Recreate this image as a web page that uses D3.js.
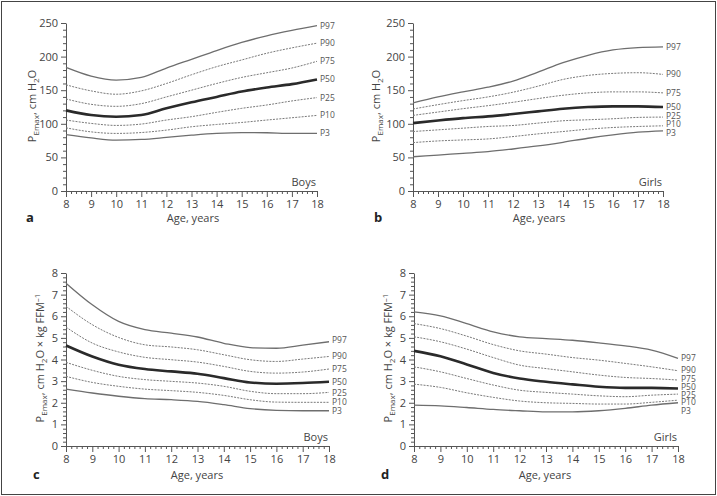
<!DOCTYPE html>
<html><head><meta charset="utf-8">
<script src="https://cdn.jsdelivr.net/npm/d3@7"></script>
<style>
body{margin:0;background:#fff;}
svg{display:block;font-family:"Open Sans",sans-serif;}
</style></head><body>
<svg id="c" width="717" height="496"></svg>
<script>
const ages = [8,9,10,11,12,13,14,15,16,17,18];
const percentiles = ["P97","P90","P75","P50","P25","P10","P3"];

// Panel a: Boys PEmax (cm H2O)
const boysP97 = [184,171,165,169,183,196,209,221,231,239,246];
const boysP90 = [158,149,144,149,160,173,185,195,205,213,220];
const boysP75 = [137,129,126,130,140,150,160,169,176,183,193];
const boysP50 = [120,113,110.5,113,123,132,140,148,154,159,166];
const boysP25 = [105.6,100.6,97.6,99.6,105.6,110.6,117,123,128,134,139];
const boysP10 = [94,88,85.7,87,90.6,95.6,99,102,105.6,109,112.5];
const boysP3  = [84,79,75.7,76.7,79.7,83,85.7,87,86.7,85.7,85.7];
const boysLabelAt = [246,220,193,166,139,112.5,86];

// Panel b: Girls PEmax (cm H2O)
const girlsP97 = [131,140,147.5,154.5,163.5,177,191,202,210,213.5,214.5];
const girlsP90 = [122,128.5,134.5,140,147,156,166,172,175,176,173.5];
const girlsP75 = [112.5,117.5,122.5,127,132,137.5,142.5,146,147.5,147.5,146];
const girlsP50 = [101,105,108.5,111,114.5,118.5,122.5,125,126,126,125];
const girlsP25 = [88.5,91,93.5,96,97.5,101,104.5,106,107.5,109.5,110];
const girlsP10 = [72,74.5,76,77.5,81,85,88.5,92,94.5,96,97];
const girlsP3  = [51,53.5,56,58.5,62.5,67,72.5,78.5,83.5,87.5,89.5];
const girlsLabelAt = [214.5,174.5,145.5,125.5,111,100,87];

// Panel c: Boys PEmax per kg FFM
const boysFfmP97 = [7.53,6.53,5.76,5.38,5.22,5.04,4.75,4.55,4.52,4.66,4.82];
const boysFfmP90 = [6.46,5.61,5.02,4.68,4.58,4.45,4.22,3.99,3.91,4.02,4.14];
const boysFfmP75 = [5.5,4.76,4.35,4.1,3.99,3.88,3.68,3.45,3.37,3.42,3.56];
const boysFfmP50 = [4.65,4.14,3.76,3.56,3.45,3.34,3.14,2.94,2.88,2.91,2.97];
const boysFfmP25 = [3.87,3.5,3.22,3.07,2.99,2.91,2.76,2.53,2.42,2.42,2.48];
const boysFfmP10 = [3.22,2.94,2.76,2.63,2.56,2.48,2.34,2.14,2.03,2.02,2.02];
const boysFfmP3  = [2.63,2.45,2.3,2.19,2.14,2.06,1.91,1.73,1.65,1.63,1.63];
const boysFfmLabelAt = [4.9,4.14,3.55,2.97,2.47,2.04,1.63];

// Panel d: Girls PEmax per kg FFM
const girlsFfmP97 = [6.2,6.02,5.66,5.28,5.05,4.97,4.89,4.77,4.63,4.43,4.05];
const girlsFfmP90 = [5.66,5.43,5.08,4.69,4.4,4.25,4.09,3.97,3.82,3.66,3.48];
const girlsFfmP75 = [5.05,4.82,4.48,4.09,3.74,3.58,3.43,3.28,3.17,3.12,3.05];
const girlsFfmP50 = [4.4,4.15,3.77,3.38,3.12,2.97,2.85,2.74,2.69,2.69,2.66];
const girlsFfmP25 = [3.66,3.43,3.12,2.82,2.58,2.48,2.4,2.32,2.28,2.35,2.4];
const girlsFfmP10 = [2.86,2.71,2.46,2.25,2.08,2.0,1.97,1.94,1.94,2.02,2.12];
const girlsFfmP3  = [1.89,1.86,1.78,1.69,1.63,1.58,1.58,1.63,1.74,1.89,2.0];
const girlsFfmLabelAt = [4.09,3.5,3.1,2.72,2.38,2.04,1.6];

const xTicks = [8,9,10,11,12,13,14,15,16,17,18];
const yTicksA = [0,50,100,150,200,250];
const yTicksC = [0,1,2,3,4,5,6,7,8];

const svg = d3.select("#c");
svg.append("rect").attr("x",1.5).attr("y",1.5).attr("width",714).attr("height",493)
  .attr("fill","none").attr("stroke","#444").attr("stroke-width",1);

const styles = {
  P97:{stroke:"#6e6e6e",w:1.3,dash:null},
  P90:{stroke:"#7a7a7a",w:1,dash:"2,1.2"},
  P75:{stroke:"#7a7a7a",w:1,dash:"2,1.2"},
  P50:{stroke:"#2a2a2a",w:2.6,dash:null},
  P25:{stroke:"#7a7a7a",w:1,dash:"2,1.2"},
  P10:{stroke:"#7a7a7a",w:1,dash:"2,1.2"},
  P3:{stroke:"#6e6e6e",w:1.3,dash:null}
};

const panels = [
  {letter:"a",sex:"Boys",x0:66,x1:317,y0:191,y1:23,ymax:250,yTicks:yTicksA,minorStep:10,
   series:[boysP97,boysP90,boysP75,boysP50,boysP25,boysP10,boysP3],labelAt:boysLabelAt,
   letterX:26,letterY:222,titleX:193,titleY:222,yTitleX:36,yTitleY:106,ffm:false},
  {letter:"b",sex:"Girls",x0:413,x1:663,y0:191,y1:23,ymax:250,yTicks:yTicksA,minorStep:10,
   series:[girlsP97,girlsP90,girlsP75,girlsP50,girlsP25,girlsP10,girlsP3],labelAt:girlsLabelAt,
   letterX:374,letterY:222,titleX:539,titleY:222,yTitleX:380,yTitleY:106,ffm:false},
  {letter:"c",sex:"Boys",x0:66,x1:329,y0:446,y1:273,ymax:8,yTicks:yTicksC,minorStep:0.2,
   series:[boysFfmP97,boysFfmP90,boysFfmP75,boysFfmP50,boysFfmP25,boysFfmP10,boysFfmP3],labelAt:boysFfmLabelAt,
   letterX:33,letterY:479,titleX:197,titleY:479,yTitleX:44,yTitleY:358,ffm:true},
  {letter:"d",sex:"Girls",x0:414,x1:678,y0:446,y1:273,ymax:8,yTicks:yTicksC,minorStep:0.2,
   series:[girlsFfmP97,girlsFfmP90,girlsFfmP75,girlsFfmP50,girlsFfmP25,girlsFfmP10,girlsFfmP3],labelAt:girlsFfmLabelAt,
   letterX:381,letterY:479,titleX:545,titleY:479,yTitleX:392,yTitleY:358,ffm:true}
];

const tickColor = "#555";
const fs = 11;
panels.forEach(p=>{
  const x = d3.scaleLinear().domain([8,18]).range([p.x0,p.x1]);
  const y = d3.scaleLinear().domain([0,p.ymax]).range([p.y0,p.y1]);
  const g = svg.append("g");

  // minor ticks
  const minorY = d3.range(0,p.ymax+1e-9,p.minorStep).filter(v=>!p.yTicks.some(t=>Math.abs(t-v)<1e-6));
  const minorX = d3.range(8,18+1e-9,0.2).filter(v=>Math.abs(v-Math.round(v))>1e-6);
  g.append("g").attr("transform",`translate(${p.x0},0)`)
    .call(d3.axisLeft(y).tickValues(minorY).tickSize(3).tickFormat(""))
    .call(s=>s.select(".domain").remove());
  g.append("g").attr("transform",`translate(0,${p.y0})`)
    .call(d3.axisBottom(x).tickValues(minorX).tickSize(3).tickFormat(""))
    .call(s=>s.select(".domain").remove());

  g.append("g").attr("transform",`translate(${p.x0},0)`)
    .call(d3.axisLeft(y).tickValues(p.yTicks).tickSize(5).tickSizeOuter(0).tickPadding(3));
  g.append("g").attr("transform",`translate(0,${p.y0})`)
    .call(d3.axisBottom(x).tickValues(xTicks).tickSize(6).tickSizeOuter(0).tickPadding(3));
  g.selectAll(".tick line").attr("stroke",tickColor);
  g.selectAll(".domain").attr("stroke",tickColor);
  g.selectAll(".tick text").attr("fill","#444").attr("font-size",fs).attr("font-family","Open Sans, sans-serif");

  // lines
  const line = d3.line().x((d,i)=>x(ages[i])).y(d=>y(d)).curve(d3.curveMonotoneX);
  p.series.forEach((s,k)=>{
    const st = styles[percentiles[k]];
    g.append("path").attr("d",line(s)).attr("fill","none")
      .attr("stroke",st.stroke).attr("stroke-width",st.w)
      .attr("stroke-dasharray",st.dash);
    g.append("text").attr("x",x(18)+3).attr("y",y(p.labelAt[k])).attr("dy","0.35em")
      .attr("font-size",8.5).attr("fill","#555").text(percentiles[k]);
  });

  g.append("text").attr("x",p.x1-1).attr("y",p.y0-5).attr("text-anchor","end")
    .attr("font-size",fs).attr("fill","#444").text(p.sex);

  g.append("text").attr("x",p.letterX).attr("y",p.letterY).attr("font-size",13)
    .attr("font-weight","bold").attr("fill","#222").text(p.letter);
  g.append("text").attr("x",p.titleX).attr("y",p.titleY).attr("text-anchor","middle")
    .attr("font-size",fs).attr("fill","#444").text("Age, years");

  const yt = g.append("text").attr("transform",`translate(${p.yTitleX},${p.yTitleY}) rotate(-90)`)
    .attr("text-anchor","middle").attr("font-size",fs).attr("fill","#444");
  yt.append("tspan").text("P");
  yt.append("tspan").attr("font-size",8).attr("dy",2.5).text("Emax");
  yt.append("tspan").attr("dy",-2.5).text(", cm H");
  yt.append("tspan").attr("font-size",8).attr("dy",2.5).text("2");
  yt.append("tspan").attr("dy",-2.5).text("O");
  if(p.ffm){
    yt.append("tspan").text(" × kg FFM");
    yt.append("tspan").attr("font-size",8).attr("dy",-4).text("–1");
  }
});
</script>
</body></html>
